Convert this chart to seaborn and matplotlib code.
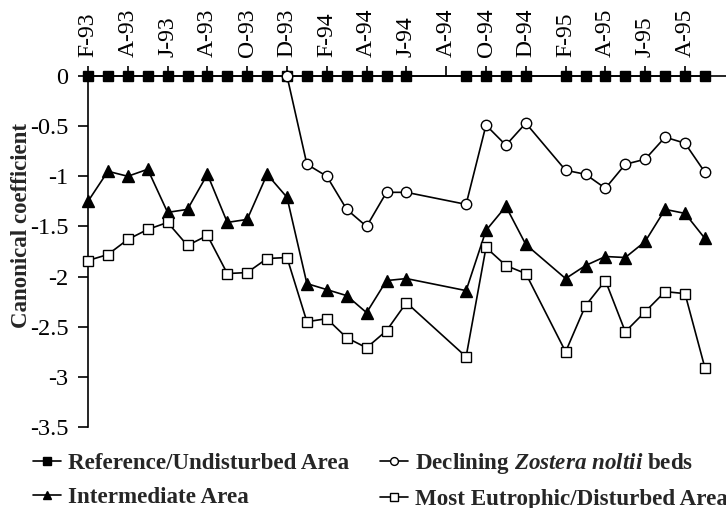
import numpy as np
import pandas as pd
import seaborn as sns
import matplotlib.pyplot as plt

# month index: 0 = Feb-93, one step per month
tick_pos = list(range(0, 31, 2))
tick_labels = ["F-93", "A-93", "J-93", "A-93", "O-93", "D-93", "F-94", "A-94",
               "J-94", "A-94", "O-94", "D-94", "F-95", "A-95", "J-95", "A-95"]

ref_idx = list(range(0, 17)) + [19, 20, 21, 22] + list(range(24, 32))
ref_val = [0.0] * len(ref_idx)

zos_idx = [10, 11, 12, 13, 14, 15, 16, 19, 20, 21, 22, 24, 25, 26, 27, 28, 29, 30, 31]
zos_val = [0.0, -0.88, -1.00, -1.33, -1.50, -1.16, -1.16, -1.28, -0.49, -0.69, -0.47,
           -0.94, -0.98, -1.12, -0.88, -0.83, -0.61, -0.67, -0.96]

int_idx = list(range(0, 17)) + [19, 20, 21, 22] + list(range(24, 32))
int_val = [-1.25, -0.95, -1.00, -0.93, -1.36, -1.33, -0.98, -1.46, -1.43, -0.98, -1.21,
           -2.07, -2.13, -2.19, -2.36, -2.04, -2.02,
           -2.14, -1.54, -1.30, -1.68,
           -2.02, -1.89, -1.80, -1.81, -1.65, -1.33, -1.37, -1.62]

eut_idx = int_idx
eut_val = [-1.84, -1.78, -1.63, -1.53, -1.46, -1.69, -1.59, -1.97, -1.96, -1.82, -1.81,
           -2.45, -2.42, -2.61, -2.71, -2.54, -2.26,
           -2.80, -1.71, -1.89, -1.97,
           -2.75, -2.29, -2.04, -2.55, -2.35, -2.15, -2.17, -2.91]

sns.set_style("ticks")
plt.rcParams['font.family'] = ['Liberation Serif', 'DejaVu Serif']
plt.rcParams['axes.unicode_minus'] = False
plt.rcParams['mathtext.fontset'] = 'custom'
plt.rcParams['mathtext.it'] = 'Liberation Serif:italic:bold'
plt.rcParams['mathtext.rm'] = 'Liberation Serif:bold'

fig = plt.figure(figsize=(7.26, 5.08), dpi=100)
ax = fig.add_axes([88 / 726, 81 / 508, (726 - 88) / 726, 351 / 508])

common = dict(color="black", linewidth=1.2, clip_on=False, markeredgecolor="black",
              markeredgewidth=1.0)

sns.lineplot(x=ref_idx, y=ref_val, ax=ax, marker="s", markersize=7,
             markerfacecolor="black", label="Reference/Undisturbed Area", zorder=3, **common)
sns.lineplot(x=int_idx, y=int_val, ax=ax, marker="^", markersize=8,
             markerfacecolor="black", label="Intermediate Area", zorder=3, **common)
sns.lineplot(x=zos_idx, y=zos_val, ax=ax, marker="o", markersize=7.5,
             markerfacecolor="white", label=r"Declining $\mathit{Zostera\ noltii}$ beds",
             zorder=4, **common)
sns.lineplot(x=eut_idx, y=eut_val, ax=ax, marker="s", markersize=7,
             markerfacecolor="white", label="Most Eutrophic/Disturbed Area", zorder=3, **common)

ax.set_xlim(0, 32.06)
ax.set_ylim(-3.5, 0)
ax.xaxis.tick_top()
ax.set_xticks(tick_pos)
ax.set_xticklabels(tick_labels, rotation=90, fontsize=17)
ax.set_yticks(np.arange(-3.5, 0.01, 0.5))
ax.set_yticklabels(["-3.5", "-3", "-2.5", "-2", "-1.5", "-1", "-0.5", "0"], fontsize=17.5)
ax.tick_params(axis="both", direction="out", length=7, width=1.2, colors="black")
ax.tick_params(axis="x", pad=7)
ax.tick_params(axis="y", pad=7)

for side in ["bottom", "right"]:
    ax.spines[side].set_visible(False)
for side in ["top", "left"]:
    ax.spines[side].set_linewidth(1.2)
    ax.spines[side].set_color("black")

ax.set_xlabel("")
ax.set_ylabel("Canonical coefficient", fontsize=16.5, fontweight="bold")
ax.yaxis.set_label_coords(-0.087, 0.573)

handles, labels = ax.get_legend_handles_labels()
ax.get_legend().remove()
fig.legend(handles, labels, ncol=2, loc="lower left", bbox_to_anchor=(0.017, -0.045),
           frameon=False, markerscale=0.75, handlelength=1.2, handletextpad=0.3,
           columnspacing=1.35, labelspacing=0.55,
           prop={"size": 16.6, "weight": "bold"})

fig.savefig("out.png", dpi=100)
